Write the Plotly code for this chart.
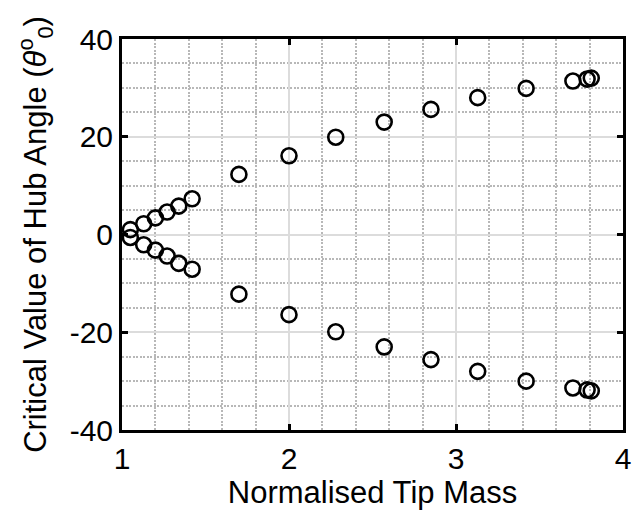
import plotly.graph_objects as go

# Normalised tip mass vs critical hub angle (upper and lower branches)
x_upper = [1.05, 1.13, 1.20, 1.27, 1.34, 1.42, 1.70, 2.00, 2.28, 2.57, 2.85, 3.13, 3.42, 3.70, 3.785, 3.81]
y_upper = [1.0, 2.2, 3.4, 4.6, 5.8, 7.3, 12.3, 16.1, 19.9, 23.0, 25.6, 28.0, 29.9, 31.4, 31.8, 32.0]
x_lower = [1.05, 1.13, 1.20, 1.27, 1.34, 1.42, 1.70, 2.00, 2.28, 2.57, 2.85, 3.13, 3.42, 3.70, 3.785, 3.81]
y_lower = [-0.6, -2.1, -3.2, -4.4, -5.9, -7.1, -12.2, -16.4, -19.9, -23.0, -25.6, -28.0, -30.0, -31.4, -31.8, -32.0]

x_ticks = [1, 2, 3, 4]
y_ticks = [-40, -20, 0, 20, 40]

FONT = "Liberation Sans, Arial, sans-serif"

marker = dict(symbol="circle-open", size=15, color="black",
              line=dict(width=2.6, color="black"))

fig = go.Figure()
fig.add_trace(go.Scatter(x=x_upper, y=y_upper, mode="markers", marker=marker,
                         showlegend=False, cliponaxis=False))
fig.add_trace(go.Scatter(x=x_lower, y=y_lower, mode="markers", marker=marker,
                         showlegend=False, cliponaxis=False))

axis_common = dict(
    showline=True, linecolor="black", linewidth=3, mirror="ticks",
    ticks="inside", ticklen=6, tickwidth=2.5, tickcolor="black",
    showgrid=True, gridcolor="#dcdcdc", gridwidth=1.5,
    zeroline=False,
    tickfont=dict(family=FONT, size=30, color="black"),
)

fig.update_xaxes(
    range=[1, 4], tickvals=x_ticks, ticktext=[str(v) for v in x_ticks],
    minor=dict(dtick=0.2, tick0=1, showgrid=True, gridcolor="#b8b8b8",
               griddash="2px,1.5px", gridwidth=1.5, ticks=""),
    title=dict(text="Normalised Tip Mass", font=dict(family=FONT, size=31, color="black"),
               standoff=2),
    **axis_common,
)
fig.update_yaxes(
    range=[-40, 40], tickvals=y_ticks, ticktext=[str(v) for v in y_ticks],
    minor=dict(dtick=5, tick0=0, showgrid=True, gridcolor="#b8b8b8",
               griddash="2px,1.5px", gridwidth=1.5, ticks=""),
    title=dict(text="Critical Value of Hub Angle (<i>θ</i><sup>o</sup><sub>0</sub>)",
               font=dict(family=FONT, size=31, color="black"), standoff=14),
    **axis_common,
)

fig.update_layout(
    width=638, height=515,
    margin=dict(l=122, r=15, t=39, b=85, autoexpand=False),
    paper_bgcolor="white", plot_bgcolor="white",
    font=dict(family=FONT, color="black"),
)

fig.write_html("out.html")
